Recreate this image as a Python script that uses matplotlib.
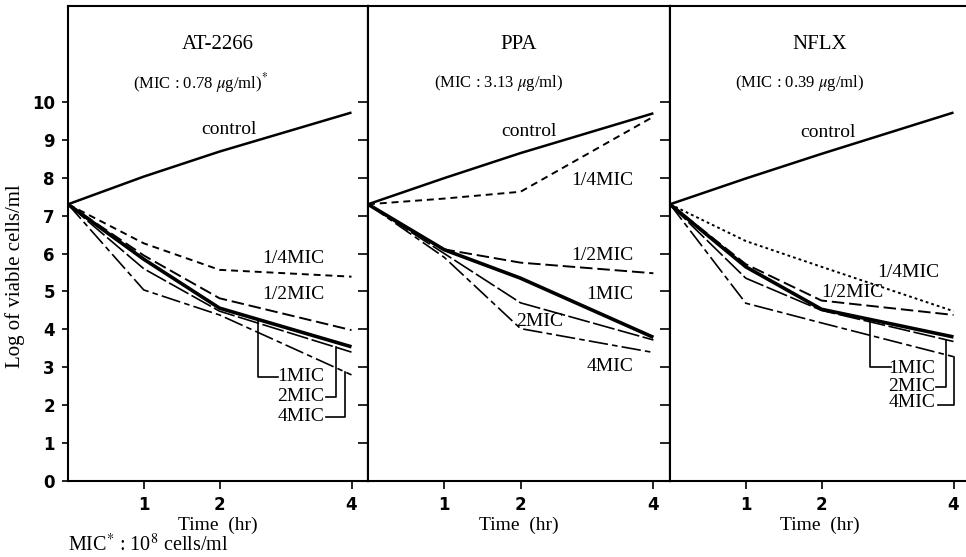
import numpy as np
import matplotlib
matplotlib.use("Agg")
import matplotlib.pyplot as plt

plt.rcParams["font.family"] = ["Liberation Serif", "DejaVu Serif"]
plt.rcParams["mathtext.fontset"] = "stix"
plt.rcParams["lines.scale_dashes"] = False

# Sampling times (hr)
times = [0, 1, 2, 4]

# Log of viable cells/ml for each drug and concentration
at_control = [7.3, 8.03, 8.69, 9.72]
at_quarter = [7.3, 6.27, 5.57, 5.39]
at_half = [7.3, 5.95, 4.82, 3.98]
at_one = [7.3, 5.85, 4.56, 3.54]
at_two = [7.3, 5.60, 4.48, 3.40]
at_four = [7.3, 5.04, 4.38, 2.80]

ppa_control = [7.3, 7.99, 8.65, 9.70]
ppa_quarter = [7.3, 7.45, 7.63, 9.61]
ppa_half = [7.3, 6.11, 5.76, 5.48]
ppa_one = [7.3, 6.10, 5.35, 3.79]
ppa_two = [7.3, 6.00, 4.70, 3.72]
ppa_four = [7.3, 5.90, 4.02, 3.39]

nflx_control = [7.3, 7.98, 8.63, 9.72]
nflx_quarter = [7.3, 6.33, 5.65, 4.48]
nflx_half = [7.3, 5.72, 4.76, 4.38]
nflx_one = [7.3, 5.65, 4.53, 3.80]
nflx_two = [7.3, 5.35, 4.50, 3.68]
nflx_four = [7.3, 4.69, 4.17, 3.28]

drug_names = ["AT-2266", "PPA", "NFLX"]
mic_texts = ["(MIC : 0.78 $\\mathit{\\mu}$g/ml)$^{*}$",
             "(MIC : 3.13 $\\mathit{\\mu}$g/ml)",
             "(MIC : 0.39 $\\mathit{\\mu}$g/ml)"]
series_keys = ["control", "1/4MIC", "1/2MIC", "1MIC", "2MIC", "4MIC"]
panel_data = [
    [at_control, at_quarter, at_half, at_one, at_two, at_four],
    [ppa_control, ppa_quarter, ppa_half, ppa_one, ppa_two, ppa_four],
    [nflx_control, nflx_quarter, nflx_half, nflx_one, nflx_two, nflx_four],
]

# line appearance per concentration
styles = {
    "control": dict(ls="-", lw=1.8),
    "1/4MIC": dict(ls=(0, (5, 3.5)), lw=1.4),
    "1/2MIC": dict(ls=(0, (9, 3.5)), lw=1.4),
    "1MIC": dict(ls="-", lw=2.6),
    "2MIC": dict(ls=(0, (16, 2.5)), lw=1.2),
    "4MIC": dict(ls=(0, (14, 3, 4, 3)), lw=1.2),
}
dotted_quarter = dict(ls=(0, (2, 2.2)), lw=1.4)

# curve labels: (text, t, value, ha)
labels = [
    [("control", 2.14, 9.26, "center"), ("1/4MIC", 3.59, 5.88, "right"),
     ("1/2MIC", 3.59, 4.91, "right"), ("1MIC", 3.59, 2.75, "right"),
     ("2MIC", 3.59, 2.22, "right"), ("4MIC", 3.59, 1.70, "right")],
    [("control", 2.12, 9.22, "center"), ("1/4MIC", 3.70, 7.94, "right"),
     ("1/2MIC", 3.70, 5.96, "right"), ("1MIC", 3.70, 4.91, "right"),
     ("2MIC", 2.29, 4.20, "center"), ("4MIC", 3.70, 3.02, "right")],
    [("control", 2.09, 9.18, "center"), ("1/4MIC", 3.79, 5.49, "right"),
     ("1/2MIC", 2.47, 4.96, "center"), ("1MIC", 3.72, 2.98, "right"),
     ("2MIC", 3.72, 2.48, "right"), ("4MIC", 3.72, 2.06, "right")],
]

# leader lines: (series index, t of vertical, bottom value, t of horizontal end)
leaders = [
    [(3, 2.59, 2.75, 2.89), (4, 3.77, 2.22, 3.62), (5, 3.90, 1.70, 3.62)],
    [],
    [(3, 2.73, 3.02, 3.06), (4, 3.88, 2.49, 3.74), (5, 4.00, 2.00, 3.77)],
]

K = 0.871  # compression of the time axis beyond 2 hr


def fwd(t):
    t = np.asarray(t, dtype=float)
    return np.where(t <= 2, t, 2 + (t - 2) * K)


def inv(u):
    u = np.asarray(u, dtype=float)
    return np.where(u <= 2, u, 2 + (u - 2) / K)


W, H = 966, 557
fig = plt.figure(figsize=(W / 100, H / 100), dpi=100)

lefts = [68, 368, 670]
widths = [300, 302, 300]
bottom_px, top_px = 481, 6

for i in range(3):
    ax = fig.add_axes([lefts[i] / W, (H - bottom_px) / H,
                       widths[i] / W, (bottom_px - top_px) / H])
    ax.set_xscale("function", functions=(fwd, inv))
    ax.set_xlim(0, 4.25)
    ax.set_ylim(0, 12.53)
    for sp in ax.spines.values():
        sp.set_linewidth(1.5)

    for j, key in enumerate(series_keys):
        st = styles[key]
        if i == 2 and key == "1/4MIC":
            st = dotted_quarter
        ax.plot(times, panel_data[i][j], color="black",
                solid_joinstyle="miter", solid_capstyle="butt", **st)

    for text, t, v, ha in labels[i]:
        ax.text(t, v, text, ha=ha, va="center", fontsize=14)

    for idx, tv, vb, th in leaders[i]:
        vt = np.interp(tv, times, panel_data[i][idx])
        ax.plot([tv, tv, th], [vt, vb, vb], color="black", lw=1.2)

    ax.text(0.5, 0.918, drug_names[i], transform=ax.transAxes,
            ha="center", va="center", fontsize=15)
    ax.text(0.218, 0.838, mic_texts[i], transform=ax.transAxes,
            ha="left", va="center", fontsize=12)

    ax.set_xticks([1, 2, 4])
    ax.set_xticklabels(["1", "2", "4"])
    ax.xaxis.set_minor_locator(matplotlib.ticker.NullLocator())
    ax.tick_params(axis="x", direction="out", length=6, width=1.2,
                   labelsize=12, pad=5)
    for lab in ax.get_xticklabels():
        lab.set_family("DejaVu Sans")
        lab.set_fontweight("bold")

    if i == 0:
        ax.set_yticks(range(0, 11))
        ax.tick_params(axis="y", direction="out", length=4.5, width=1.2,
                       labelsize=12, pad=5)
        for lab in ax.get_yticklabels():
            lab.set_family("DejaVu Sans")
            lab.set_fontweight("bold")
    else:
        ax.set_yticks([])

    if i < 2:
        sec = ax.secondary_yaxis("right")
        sec.set_yticks(range(1, 11))
        sec.tick_params(direction="in", length=7.5, width=1.2,
                        labelright=False)
        sec.spines["right"].set_linewidth(1.5)

    ax.set_xlabel("Time  (hr)", fontsize=14, labelpad=2)

fig.text(15 / W, 1 - 276 / H, "Log of viable cells/ml", rotation=90,
         ha="center", va="center", fontsize=15)
fig.text(68 / W, 1 - 545 / H, "MIC$^{*}$ : 10$^{8}$ cells/ml",
         ha="left", va="center", fontsize=14.5)

fig.savefig("out.png", dpi=100)
